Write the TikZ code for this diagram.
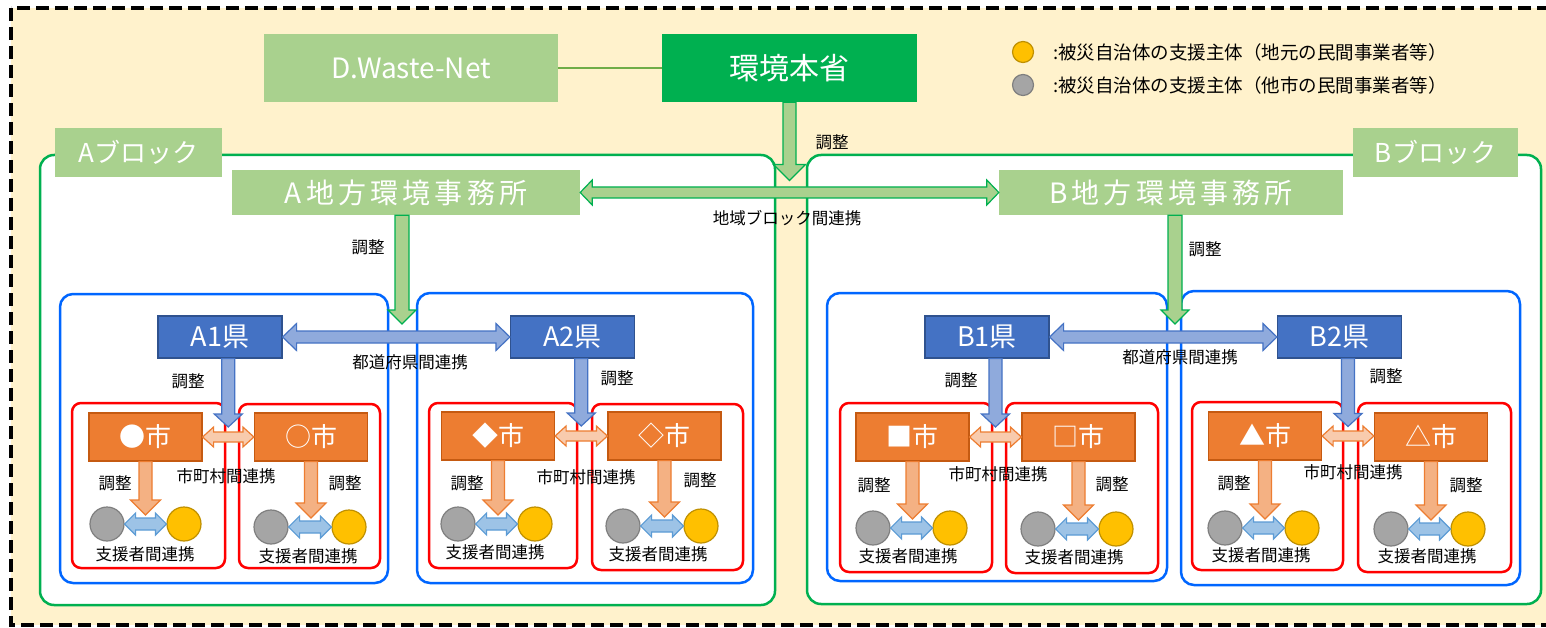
\documentclass[tikz,border=0pt]{standalone}
\usepackage{fontspec}
\setmainfont{Noto Sans CJK JP}
\usetikzlibrary{calc}

\definecolor{cream}{HTML}{FFF2CC}
\definecolor{lgreen}{HTML}{A9D18E}
\definecolor{dgreen}{HTML}{00B050}
\definecolor{lineg}{HTML}{70AD47}
\definecolor{kenblue}{HTML}{4472C4}
\definecolor{kenedge}{HTML}{2F528F}
\definecolor{kenarrow}{HTML}{8FAADC}
\definecolor{prefline}{HTML}{0066FF}
\definecolor{cityor}{HTML}{ED7D31}
\definecolor{cityedge}{HTML}{C55A11}
\definecolor{orarrow}{HTML}{F4B183}
\definecolor{orlink}{HTML}{F8CBAD}
\definecolor{supblue}{HTML}{9DC3E6}
\definecolor{supedge}{HTML}{5B9BD5}
\definecolor{dotgray}{HTML}{A5A5A5}
\definecolor{grayedge}{HTML}{7F7F7F}
\definecolor{dotyel}{HTML}{FFC000}
\definecolor{yeledge}{HTML}{BF9000}

\newcommand{\fsz}[1]{\fontsize{#1}{#1}\selectfont}
\newcommand{\offfont}{\fsz{28}\addfontfeature{LetterSpace=15}}

\tikzset{
  lbl/.style={font=\fsz{16.5}, inner sep=0pt},
  greenbox/.style={fill=lgreen, text=white, inner sep=0pt},
  kenbox/.style={draw=kenedge, line width=1.2pt, fill=kenblue, text=white,
    minimum width=124pt, minimum height=42pt, inner sep=0pt, font=\fsz{27}},
  citybox/.style={draw=cityedge, line width=1.2pt, fill=cityor, text=white,
    minimum width=113pt, minimum height=48pt, inner sep=0pt, font=\fsz{26}},
  gdot/.style={circle, draw=grayedge, line width=1.2pt, fill=dotgray, minimum size=34pt, inner sep=0pt},
  ydot/.style={circle, draw=yeledge, line width=1.2pt, fill=dotyel, minimum size=34pt, inner sep=0pt},
  blockline/.style={draw=dgreen, line width=2.5pt, fill=white, rounded corners=14pt},
  prefframe/.style={draw=prefline, line width=2.5pt, rounded corners=13pt},
  grpframe/.style={draw=red, line width=2.5pt, rounded corners=9pt},
  fatdown/.style n args={3}{to path={let \p1=(\tikztostart), \p2=(\tikztotarget) in
    (\x1-#1,\y1) -- (\x1-#1,\y2+#3) -- (\x1-#2,\y2+#3) -- (\x1,\y2)
    -- (\x1+#2,\y2+#3) -- (\x1+#1,\y2+#3) -- (\x1+#1,\y1) -- cycle}},
  fatboth/.style n args={3}{to path={let \p1=(\tikztostart), \p2=(\tikztotarget) in
    (\x1,\y1) -- (\x1+#3,\y1+#2) -- (\x1+#3,\y1+#1) -- (\x2-#3,\y1+#1) -- (\x2-#3,\y1+#2)
    -- (\x2,\y1) -- (\x2-#3,\y1-#2) -- (\x2-#3,\y1-#1) -- (\x1+#3,\y1-#1) -- (\x1+#3,\y1-#2) -- cycle}},
  garrow/.style={draw=dgreen, fill=lgreen, line width=1.2pt},
  barrow/.style={draw=kenblue, fill=kenarrow, line width=1.2pt},
  oarrow/.style={draw=cityor, fill=orarrow, line width=1.2pt},
  olink/.style={draw=cityor, fill=orlink, line width=1.2pt},
  slink/.style={draw=supedge, fill=supblue, line width=1.2pt},
}

\begin{document}
\begin{tikzpicture}[x=1pt,y=-1pt]
\useasboundingbox (0,0) rectangle (1546,628);
\clip (0,0) rectangle (1546,628);
\draw[fill=cream, line width=4pt, dash pattern=on 13pt off 6pt] (11,8) rectangle (1560,625);

% {Ministry}
\node[greenbox, minimum width=294pt, minimum height=68pt, font=\fsz{28}] (dwn) at (411,68) {D.Waste-Net};
\node[greenbox, fill=dgreen, minimum width=255pt, minimum height=68pt, font=\fsz{30}] (moe) at (789.5,68) {環境本省};
\draw[draw=lineg, line width=2.5pt] (dwn) -- (moe);

% {Legend}
\node[ydot, minimum size=21pt] (legy) at (1023,52) {};
\node[gdot, minimum size=21pt] (legg) at (1023,85) {};
\node[lbl, font=\fsz{18.5}, anchor=west] (legytxt) at (1053,52) {:被災自治体の支援主体（地元の民間事業者等）};
\node[lbl, font=\fsz{18.5}, anchor=west] (leggtxt) at (1053,85) {:被災自治体の支援主体（他市の民間事業者等）};

% {A Block}
\begin{scope}
\draw[blockline] (40,155) rectangle (775,605);
\node[greenbox, minimum width=167pt, minimum height=49pt, font=\fsz{26}] (ablk) at (138.5,152.5) {Aブロック};
\node[greenbox, minimum width=348pt, minimum height=45pt, font=\offfont] (aoff) at (406,192.5) {A地方環境事務所};
\node[lbl] (aoffadj) at (368,247) {調整};

% A1
\draw[prefframe] (60,294) rectangle (388,583);
\draw[grpframe] (72,403) rectangle (225,568);
\draw[grpframe] (239,404) rectangle (380,568);
\node[kenbox] (a1) at (220,337) {A1県};
\node[citybox] (a1l) at (145.5,437) {●市};
\node[citybox] (a1r) at (311,437) {○市};
\node[gdot] (a1lg) at (107,524) {};
\node[ydot] (a1ly) at (184,524) {};
\node[gdot] (a1rg) at (271,527) {};
\node[ydot] (a1ry) at (349,527) {};
\node[lbl] (a1adj) at (188,381) {調整};
\node[lbl] (a1ladj) at (115,483) {調整};
\node[lbl] (a1radj) at (345,483) {調整};
\node[lbl] (a1link) at (226,476) {市町村間連携};
\node[lbl] (a1lsup) at (145,554) {支援者間連携};
\node[lbl] (a1rsup) at (308,556) {支援者間連携};
\coordinate (a1mid) at ($(a1l.east)!.5!(a1r.west)$);
\draw[olink, fatboth={5pt}{10pt}{11pt}] (a1l.east) to (a1r.west);
\draw[oarrow, fatdown={6.5pt}{15pt}{15pt}] (a1l.south) to ($(a1lg)!.5!(a1ly)+(0pt,9pt)$);
\draw[oarrow, fatdown={6.5pt}{15pt}{15pt}] (a1r.south) to ($(a1rg)!.5!(a1ry)+(0pt,9pt)$);
\draw[slink, fatboth={6pt}{11pt}{11pt}] (a1lg.east) to (a1ly.west);
\draw[slink, fatboth={6pt}{11pt}{11pt}] (a1rg.east) to (a1ry.west);
\draw[barrow, fatdown={6.5pt}{14pt}{13pt}] (a1.south -| a1mid) to ($(a1mid)+(0pt,10pt)$);

% A2
\draw[prefframe] (417,293) rectangle (753,583);
\draw[grpframe] (429,403) rectangle (577,568);
\draw[grpframe] (592,404) rectangle (743,570);
\node[kenbox] (a2) at (572.5,337) {A2県};
\node[citybox] (a2l) at (498,436) {◆市};
\node[citybox] (a2r) at (664.5,436) {◇市};
\node[gdot] (a2lg) at (458,524) {};
\node[ydot] (a2ly) at (535,524) {};
\node[gdot] (a2rg) at (623,526) {};
\node[ydot] (a2ry) at (701,526) {};
\node[lbl] (a2adj) at (617,378) {調整};
\node[lbl] (a2ladj) at (467,483) {調整};
\node[lbl] (a2radj) at (700,480) {調整};
\node[lbl] (a2link) at (586,477) {市町村間連携};
\node[lbl] (a2lsup) at (495,552) {支援者間連携};
\node[lbl] (a2rsup) at (658,554) {支援者間連携};
\coordinate (a2mid) at ($(a2l.east)!.5!(a2r.west)$);
\draw[olink, fatboth={5pt}{10pt}{11pt}] (a2l.east) to (a2r.west);
\draw[oarrow, fatdown={6.5pt}{15pt}{15pt}] (a2l.south) to ($(a2lg)!.5!(a2ly)+(0pt,9pt)$);
\draw[oarrow, fatdown={6.5pt}{15pt}{15pt}] (a2r.south) to ($(a2rg)!.5!(a2ry)+(0pt,9pt)$);
\draw[slink, fatboth={6pt}{11pt}{11pt}] (a2lg.east) to (a2ly.west);
\draw[slink, fatboth={6pt}{11pt}{11pt}] (a2rg.east) to (a2ry.west);
\draw[barrow, fatdown={6.5pt}{14pt}{13pt}] (a2.south -| a2mid) to ($(a2mid)+(0pt,10pt)$);

\coordinate (a12mid) at ($(a1.east)!.5!(a2.west)$);
\node[lbl] (a12link) at (410,362) {都道府県間連携};
\draw[barrow, fatboth={6pt}{13.5pt}{14pt}] (a1.east) to (a2.west);
\draw[garrow, fatdown={7pt}{14pt}{14pt}] ([xshift=-4pt]aoff.south) to ($(a12mid)+(0pt,13pt)$);
\end{scope}

% {B Block}
\begin{scope}
\draw[blockline] (807,155) rectangle (1541,604);
\node[greenbox, minimum width=165pt, minimum height=49pt, font=\fsz{26}] (bblk) at (1435.5,152.5) {Bブロック};
\node[greenbox, minimum width=344pt, minimum height=45pt, font=\offfont] (boff) at (1171,192.5) {B地方環境事務所};
\node[lbl] (boffadj) at (1205,249) {調整};

% B1
\draw[prefframe] (827,293) rectangle (1167,581);
\draw[grpframe] (840,403) rectangle (992,572);
\draw[grpframe] (1006,403) rectangle (1158,573);
\node[kenbox] (b1) at (987,337) {B1県};
\node[citybox] (b1l) at (912.5,437) {■市};
\node[citybox] (b1r) at (1078.5,437) {□市};
\node[gdot] (b1lg) at (873,528) {};
\node[ydot] (b1ly) at (950,528) {};
\node[gdot] (b1rg) at (1038,529) {};
\node[ydot] (b1ry) at (1116,529) {};
\node[lbl] (b1adj) at (961,380) {調整};
\node[lbl] (b1ladj) at (874,485) {調整};
\node[lbl] (b1radj) at (1112,484) {調整};
\node[lbl] (b1link) at (998,474) {市町村間連携};
\node[lbl] (b1lsup) at (908,556) {支援者間連携};
\node[lbl] (b1rsup) at (1074,557) {支援者間連携};
\coordinate (b1mid) at ($(b1l.east)!.5!(b1r.west)$);
\draw[olink, fatboth={5pt}{10pt}{11pt}] (b1l.east) to (b1r.west);
\draw[oarrow, fatdown={6.5pt}{15pt}{15pt}] (b1l.south) to ($(b1lg)!.5!(b1ly)+(0pt,9pt)$);
\draw[oarrow, fatdown={6.5pt}{15pt}{15pt}] (b1r.south) to ($(b1rg)!.5!(b1ry)+(0pt,9pt)$);
\draw[slink, fatboth={6pt}{11pt}{11pt}] (b1lg.east) to (b1ly.west);
\draw[slink, fatboth={6pt}{11pt}{11pt}] (b1rg.east) to (b1ry.west);
\draw[barrow, fatdown={6.5pt}{14pt}{13pt}] (b1.south -| b1mid) to ($(b1mid)+(0pt,10pt)$);

% B2
\draw[prefframe] (1181,291) rectangle (1520,585);
\draw[grpframe] (1192,402) rectangle (1343,570);
\draw[grpframe] (1358,403) rectangle (1511,572);
\node[kenbox] (b2) at (1339.5,337) {B2県};
\node[citybox] (b2l) at (1265,436) {▲市};
\node[citybox] (b2r) at (1431,437) {△市};
\node[gdot] (b2lg) at (1225,528) {};
\node[ydot] (b2ly) at (1302,528) {};
\node[gdot] (b2rg) at (1391,529) {};
\node[ydot] (b2ry) at (1468,529) {};
\node[lbl] (b2adj) at (1386,376) {調整};
\node[lbl] (b2ladj) at (1234,483) {調整};
\node[lbl] (b2radj) at (1466,485) {調整};
\node[lbl] (b2link) at (1353,472) {市町村間連携};
\node[lbl] (b2lsup) at (1261,555) {支援者間連携};
\node[lbl] (b2rsup) at (1427,556) {支援者間連携};
\coordinate (b2mid) at ($(b2l.east)!.5!(b2r.west)$);
\draw[olink, fatboth={5pt}{10pt}{11pt}] (b2l.east) to (b2r.west);
\draw[oarrow, fatdown={6.5pt}{15pt}{15pt}] (b2l.south) to ($(b2lg)!.5!(b2ly)+(0pt,9pt)$);
\draw[oarrow, fatdown={6.5pt}{15pt}{15pt}] (b2r.south) to ($(b2rg)!.5!(b2ry)+(0pt,9pt)$);
\draw[slink, fatboth={6pt}{11pt}{11pt}] (b2lg.east) to (b2ly.west);
\draw[slink, fatboth={6pt}{11pt}{11pt}] (b2rg.east) to (b2ry.west);
\draw[barrow, fatdown={6.5pt}{14pt}{13pt}] (b2.south -| b2mid) to ($(b2mid)+(0pt,10pt)$);

\coordinate (b12mid) at ($(b1.east)!.5!(b2.west)$);
\node[lbl] (b12link) at (1180,357) {都道府県間連携};
\draw[barrow, fatboth={6pt}{13.5pt}{14pt}] (b1.east) to (b2.west);
\draw[garrow, fatdown={7pt}{14pt}{14pt}] ([xshift=4pt]boff.south) to ($(b12mid)+(0pt,13pt)$);
\end{scope}

% {Between Blocks}
\coordinate (blkmid) at ($(aoff.east)!.5!(boff.west)$);
\node[lbl] (moeadj) at (832,142) {調整};
\node[lbl] (blklink) at (787,218) {地域ブロック間連携};
\draw[garrow, fatdown={6.5pt}{16pt}{16pt}] (moe.south) to ($(blkmid)+(0pt,12pt)$);
\draw[garrow, fatboth={5.5pt}{12.5pt}{12pt}] (aoff.east) to (boff.west);

\end{tikzpicture}
\end{document}
